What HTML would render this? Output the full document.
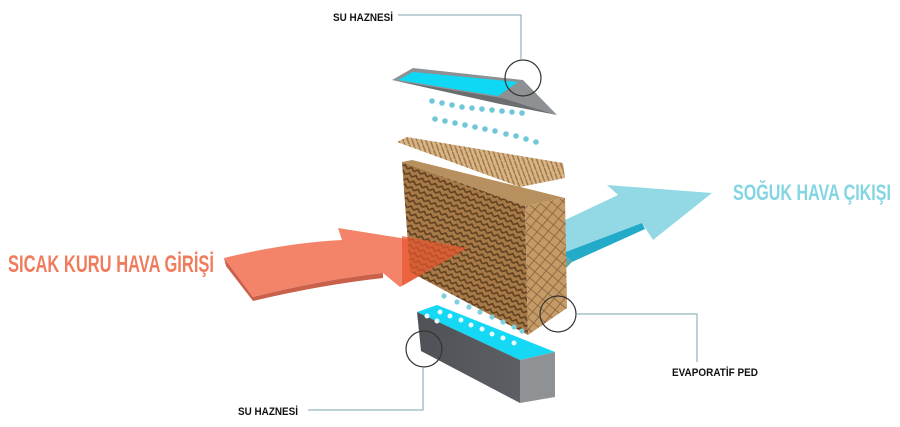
<!DOCTYPE html>
<html><head><meta charset="utf-8"><style>
html,body{margin:0;padding:0;background:#fff;width:900px;height:427px;overflow:hidden}
svg{display:block}
text{font-family:"Liberation Sans Narrow","Liberation Sans",sans-serif;font-weight:bold}
</style></head><body>
<svg width="900" height="427" viewBox="0 0 900 427" xmlns="http://www.w3.org/2000/svg">
<defs>
<pattern id="pad" width="7" height="6" patternUnits="userSpaceOnUse" patternTransform="rotate(22)">
<rect width="7" height="6" fill="#a87a48"/>
<path d="M0 4 L3.5 1 L7 4" stroke="#5e3f1f" stroke-width="1.6" fill="none"/>
</pattern>
<pattern id="pad2" width="6" height="6" patternUnits="userSpaceOnUse" patternTransform="rotate(25)">
<rect width="6" height="6" fill="#d8b585"/>
<path d="M0 0 L6 6" stroke="#9c7347" stroke-width="1.4"/>
</pattern>
<pattern id="side" width="8" height="8" patternUnits="userSpaceOnUse" patternTransform="rotate(40)">
<rect width="8" height="8" fill="#c49a66"/>
<path d="M0 0 H8 M0 0 V8" stroke="#86603a" stroke-width="1.6"/>
</pattern>
<linearGradient id="bt" x1="0" y1="0" x2="1" y2="0"><stop offset="0" stop-color="#4e5256"/><stop offset="1" stop-color="#5c6064"/></linearGradient>
</defs>

<!-- Blue arrow -->
<polygon points="565,220 618,195 607,185 712,193 653,240 642,223 563,253" fill="#93d9e5"/>
<polygon points="563,253 642,223 645,229 572,262" fill="#22aac8"/>
<polygon points="563,253 572,262 566,268" fill="#5aa8a8"/>

<!-- Red arrow -->
<path d="M224,258 Q285,243 342,240 L338,228 Q400,238 467,248 Q430,270 400,287 L383,273 Q320,280 253,297 Z" fill="#f3846a"/>
<path d="M224,258 L226,266 L253,301 L253,297 Z" fill="#c9604a"/>
<path d="M253,297 Q320,280 383,273 L383,278 Q320,285 253,301 Z" fill="#c9604a"/>

<!-- Top tray -->
<polygon points="392,80 413,68 523,80 557,115 503,98" fill="#8e9194"/>
<polygon points="398,80 413,72 518,82 498,96" fill="#0fd8f4"/>
<polygon points="392,80 503,98 557,115 500,104" fill="#6b6e71"/>

<!-- top drops -->
<g fill="#6fc7d8">
<circle cx="432" cy="101" r="2.8"/><circle cx="442" cy="103" r="2.8"/><circle cx="452" cy="105" r="2.8"/><circle cx="462" cy="107" r="2.8"/><circle cx="472" cy="108" r="2.8"/><circle cx="482" cy="109" r="2.8"/><circle cx="492" cy="110" r="2.8"/><circle cx="502" cy="111" r="2.8"/><circle cx="512" cy="112" r="2.8"/><circle cx="522" cy="113" r="2.8"/>
<circle cx="435" cy="119" r="2.8"/><circle cx="445" cy="121" r="2.8"/><circle cx="455" cy="123" r="2.8"/><circle cx="465" cy="125" r="2.8"/><circle cx="475" cy="127" r="2.8"/><circle cx="485" cy="129" r="2.8"/><circle cx="495" cy="131" r="2.8"/><circle cx="506" cy="134" r="2.8"/><circle cx="516" cy="136" r="2.8"/><circle cx="526" cy="139" r="2.8"/><circle cx="536" cy="142" r="2.8"/>
</g>

<!-- Pad top layer -->
<polygon points="397,142 407,137 563,163 565,178 520,187" fill="url(#pad2)"/>
<!-- Pad main block -->
<polygon points="402,162 412,160 565,198 525,206" fill="#b89060"/>
<polygon points="402,162 525,206 528,335 410,272" fill="url(#pad)"/>
<polygon points="525,206 565,198 567,308 528,335" fill="url(#side)"/>

<!-- red arrow head overlay -->
<path d="M402,236 Q435,242 467,248 Q430,270 402,286 Z" fill="#e8552f" opacity="0.7"/>

<!-- bottom drops -->
<g fill="#7fd0df">
<circle cx="444" cy="296" r="2.6"/><circle cx="457" cy="302" r="2.6"/><circle cx="469" cy="307" r="2.6"/><circle cx="480" cy="312" r="2.6"/><circle cx="492" cy="317" r="2.6"/><circle cx="503" cy="322" r="2.6"/><circle cx="514" cy="327" r="2.6"/><circle cx="522" cy="331" r="2.6"/>
</g>

<!-- Bottom trough -->
<polygon points="417,312 437,305 555,352 520,360" fill="#14d8f4"/>
<polygon points="417,312 520,360 520,403 421,351" fill="url(#bt)"/>
<polygon points="520,360 555,352 555,397 520,403" fill="#8f9294"/>
<g fill="#e9f9fc">
<circle cx="440" cy="312" r="2.5"/><circle cx="450" cy="316" r="2.5"/><circle cx="461" cy="320" r="2.5"/><circle cx="471" cy="325" r="2.5"/><circle cx="482" cy="329" r="2.5"/><circle cx="492" cy="334" r="2.5"/><circle cx="503" cy="338" r="2.5"/><circle cx="514" cy="343" r="2.5"/>
<circle cx="427" cy="316" r="2.5"/><circle cx="437" cy="321" r="2.5"/>
</g>

<!-- callout circles & lines -->
<g fill="none" stroke="#333" stroke-width="1.2">
<circle cx="523" cy="78" r="18"/>
<circle cx="424" cy="349" r="18"/>
<circle cx="558" cy="314" r="18"/>
</g>
<g fill="none" stroke="#7aa6ac" stroke-width="1">
<polyline points="398,15 521,15 521,60"/>
<polyline points="308,410 423,410 423,367"/>
<polyline points="577,314 697,314 697,362"/>
</g>

<!-- labels -->
<text x="333" y="21" font-size="11" fill="#111" textLength="60" lengthAdjust="spacingAndGlyphs">SU HAZNESİ</text>
<text x="238" y="415" font-size="11" fill="#111" textLength="60" lengthAdjust="spacingAndGlyphs">SU HAZNESİ</text>
<text x="672" y="376" font-size="11" fill="#111" textLength="86" lengthAdjust="spacingAndGlyphs">EVAPORATİF PED</text>
<text x="8" y="272" font-size="24" fill="#f07c5e" textLength="206" lengthAdjust="spacingAndGlyphs">SICAK KURU HAVA GİRİŞİ</text>
<text x="733" y="200" font-size="22" fill="#82d5e2" textLength="158" lengthAdjust="spacingAndGlyphs">SOĞUK HAVA ÇIKIŞI</text>
</svg>
</body></html>
